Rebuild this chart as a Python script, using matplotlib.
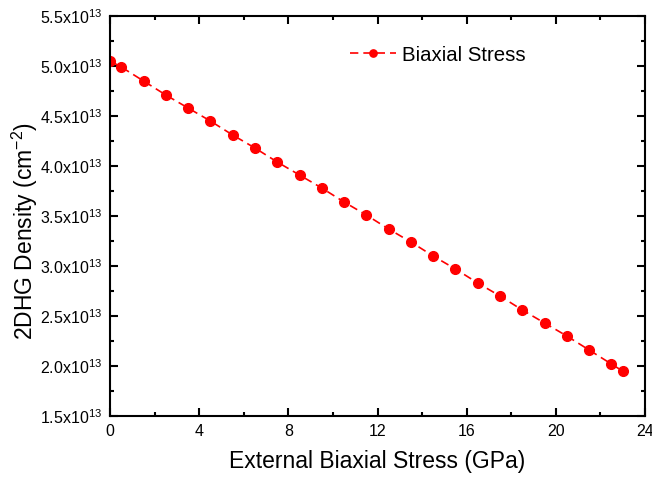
import matplotlib
matplotlib.use("Agg")
import matplotlib.pyplot as plt
from matplotlib.ticker import MultipleLocator, FuncFormatter

plt.rcParams['font.family'] = ['Liberation Sans', 'DejaVu Sans']
plt.rcParams['mathtext.fontset'] = 'custom'
plt.rcParams['mathtext.rm'] = 'Liberation Sans'

# External biaxial stress (GPa)
stress = [0, 0.5, 1.5, 2.5, 3.5, 4.5, 5.5, 6.5, 7.5, 8.5, 9.5, 10.5, 11.5,
          12.5, 13.5, 14.5, 15.5, 16.5, 17.5, 18.5, 19.5, 20.5, 21.5, 22.5, 23]
# 2DHG density in units of 1e13 cm^-2
density = [5.05, 4.99, 4.85, 4.71, 4.58, 4.45, 4.31, 4.18, 4.04, 3.91, 3.78,
           3.64, 3.51, 3.37, 3.24, 3.10, 2.97, 2.83, 2.70, 2.56, 2.43, 2.30,
           2.16, 2.02, 1.95]

fig = plt.figure(figsize=(6.52, 4.79), dpi=100)
ax = fig.add_axes([0.169, 0.1315, 0.820, 0.835])

ax.plot(stress, [d * 1e13 for d in density], color='#ff0000', linestyle='--',
        marker='o', markersize=7, linewidth=1.2, dashes=(5, 3),
        label='Biaxial Stress')

ax.set_xlim(0, 24)
ax.set_ylim(1.5e13, 5.5e13)
ax.xaxis.set_major_locator(MultipleLocator(4))
ax.xaxis.set_minor_locator(MultipleLocator(2))
ax.yaxis.set_major_locator(MultipleLocator(0.5e13))
ax.yaxis.set_minor_locator(MultipleLocator(0.25e13))
ax.yaxis.set_major_formatter(FuncFormatter(lambda v, p: r'%.1fx10$^{13}$' % (v / 1e13)))

ax.tick_params(which='both', direction='in', top=True, right=True, width=1.5,
               labelsize=11.5, pad=6)
ax.tick_params(which='major', length=6)
ax.tick_params(which='minor', length=3)
for s in ax.spines.values():
    s.set_linewidth(1.5)

ax.set_xlabel('External Biaxial Stress (GPa)', fontsize=16.5, labelpad=8)
ax.set_ylabel('2DHG Density (cm$^{-2}$)', fontsize=16.5)
ax.yaxis.set_label_coords(-0.131, 0.4625)

ax.legend(loc='center right', bbox_to_anchor=(0.797, 0.9025), frameon=False,
          fontsize=14.7, handlelength=2.25, handletextpad=0.3, borderpad=0,
          markerscale=0.75)

fig.savefig('out.png', dpi=100)
